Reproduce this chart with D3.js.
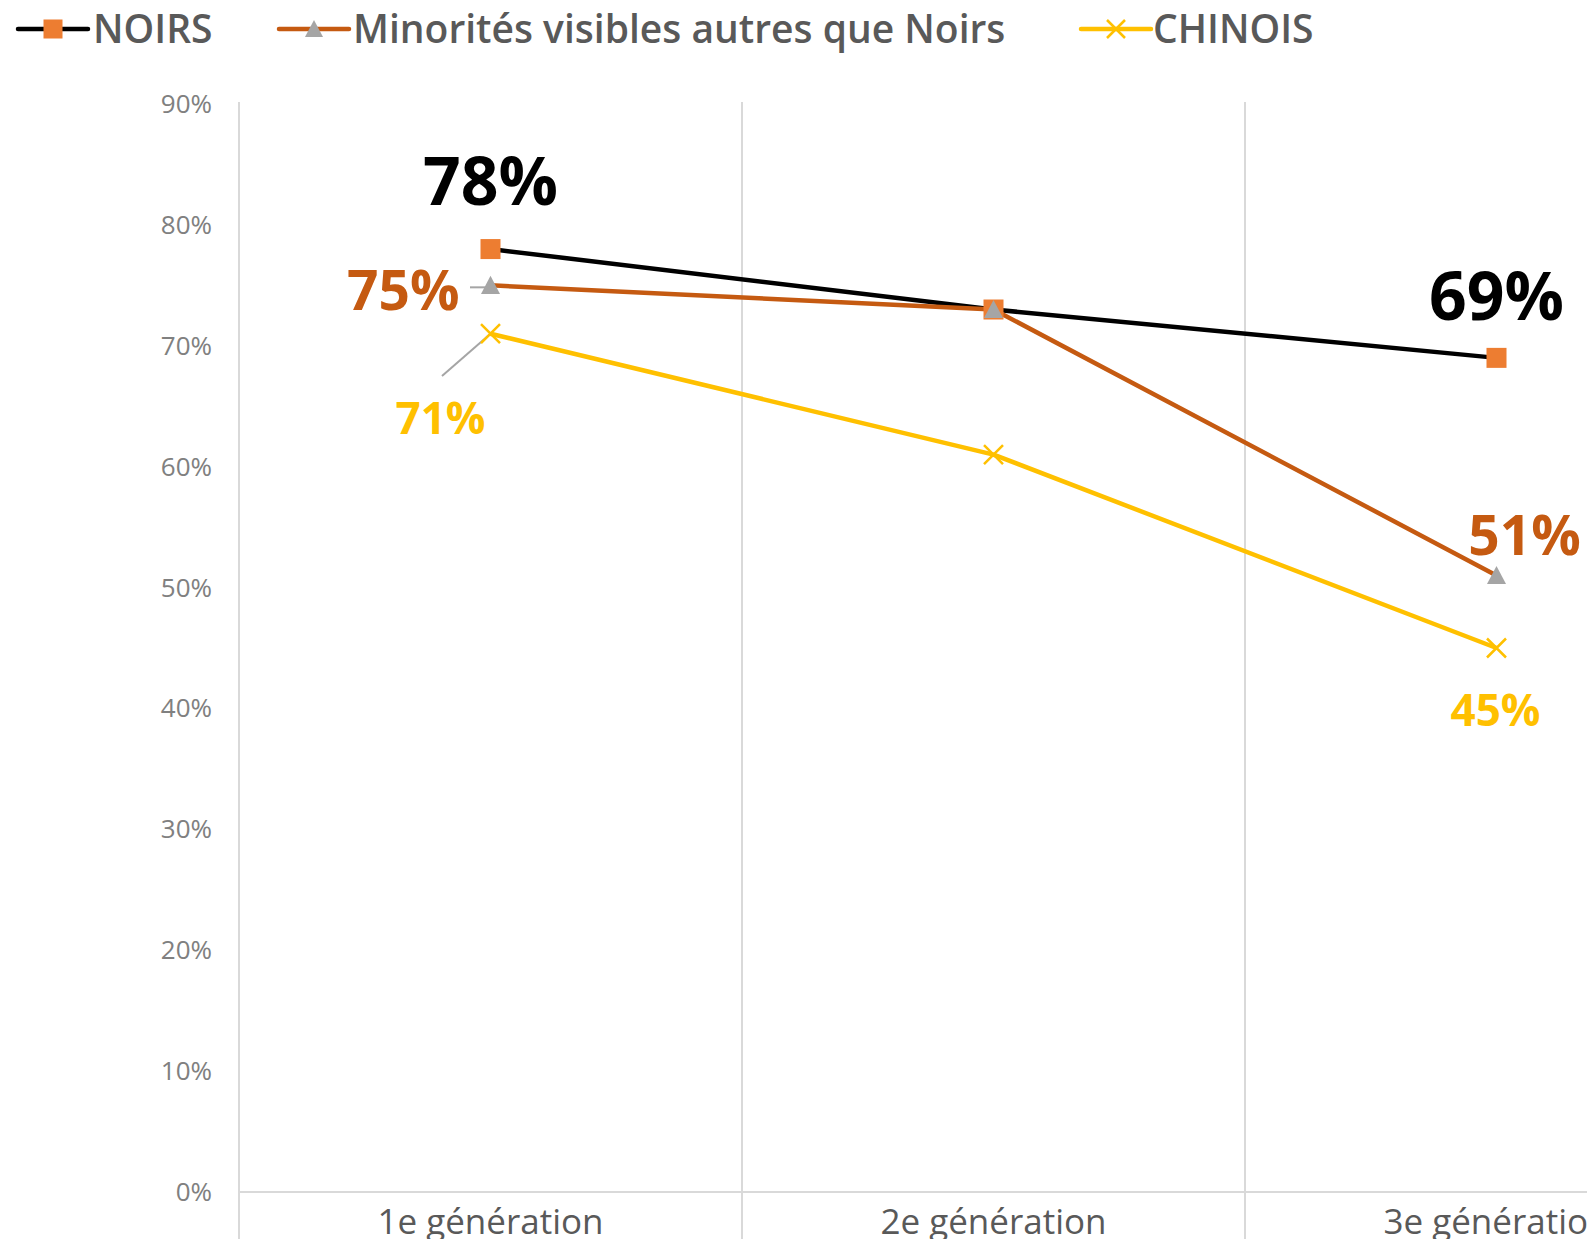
<!DOCTYPE html>
<html><head><meta charset="utf-8">
<script src="https://cdn.jsdelivr.net/npm/d3@7"></script>
<style>html,body{margin:0;padding:0;background:#fff;overflow:hidden}</style>
</head><body>
<svg id="c" width="1587" height="1239"></svg>
<script>
const categories = ["1e génération", "2e génération", "3e génération"];
const seriesNames = ["NOIRS", "Minorités visibles autres que Noirs", "CHINOIS"];
const noirs = [0.78, 0.73, 0.69];
const minorites = [0.75, 0.73, 0.51];
const chinois = [0.71, 0.61, 0.45];
const yTicks = [0, 0.1, 0.2, 0.3, 0.4, 0.5, 0.6, 0.7, 0.8, 0.9];

const svg = d3.select("#c");
const font = "'Open Sans', sans-serif";
const x = d3.scaleBand().domain(categories).range([239, 1748]).padding(0);
const y = d3.scaleLinear().domain([0, 0.9]).range([1192, 104]);
const cx = c => x(c) + x.bandwidth() / 2;

// vertical gridlines at category boundaries
const bounds = categories.map(c => x(c));
svg.selectAll(".vg").data(bounds).enter().append("line")
  .attr("x1", d => d).attr("x2", d => d).attr("y1", y(0.9) - 2).attr("y2", 1239)
  .attr("stroke", "#d9d9d9").attr("stroke-width", 2);
// bottom axis line
svg.append("line").attr("x1", 239).attr("x2", 1587).attr("y1", y(0)).attr("y2", y(0))
  .attr("stroke", "#d9d9d9").attr("stroke-width", 2);

// y tick labels
svg.selectAll(".yt").data(yTicks).enter().append("text")
  .attr("x", 212).attr("y", d => y(d) + 9)
  .attr("text-anchor", "end").attr("font-family", font).attr("font-size", 26)
  .attr("fill", "#808080").text(d => d3.format(".0%")(d));

// category labels
svg.selectAll(".xl").data(categories).enter().append("text")
  .attr("x", d => cx(d)).attr("y", 1234).attr("text-anchor", "middle")
  .attr("font-family", font).attr("font-size", 35).attr("fill", "#595959").text(d => d);

const series = [
  {name: seriesNames[0], vals: noirs, line: "#000000", marker: "square", mcol: "#ed7d31", w: 4.5},
  {name: seriesNames[1], vals: minorites, line: "#c55a11", marker: "triangle", mcol: "#a5a5a5", w: 4.5},
  {name: seriesNames[2], vals: chinois, line: "#ffc000", marker: "x", mcol: "#ffc000", w: 4.5}
];

// leader lines
svg.append("line").attr("x1", 442).attr("y1", 376).attr("x2", cx(categories[0])).attr("y2", y(chinois[0]))
  .attr("stroke", "#a5a5a5").attr("stroke-width", 2);
svg.append("line").attr("x1", 470).attr("y1", y(minorites[0]) + 2).attr("x2", cx(categories[0])).attr("y2", y(minorites[0]) + 2)
  .attr("stroke", "#a5a5a5").attr("stroke-width", 2);

const lineGen = d3.line().x((d, i) => cx(categories[i])).y(d => y(d));

function drawMarker(g, type, col, px, py, s) {
  if (type === "square") {
    g.append("rect").attr("x", px - s/2).attr("y", py - s/2).attr("width", s).attr("height", s).attr("fill", col);
  } else if (type === "triangle") {
    const h = s * 0.9;
    g.append("path").attr("d", `M${px},${py - h/2 - 1}L${px + s/2},${py + h/2}L${px - s/2},${py + h/2}Z`).attr("fill", col);
  } else {
    const r = s / 2;
    g.append("path").attr("d", `M${px - r},${py - r}L${px + r},${py + r}M${px - r},${py + r}L${px + r},${py - r}`)
      .attr("stroke", col).attr("stroke-width", 2.5);
  }
}

series.forEach(s => {
  svg.append("path").datum(s.vals).attr("d", lineGen).attr("fill", "none")
    .attr("stroke", s.line).attr("stroke-width", s.w).attr("stroke-linejoin", "round");
});
series.forEach(s => {
  const g = svg.append("g");
  s.vals.forEach((v, i) => drawMarker(g, s.marker, s.mcol, cx(categories[i]), y(v), s.marker === "square" ? 20 : 19));
});

// data labels
const fmt = d3.format(".0%");
const labels = [
  {v: noirs[0], i: 0, dx: 0, dy: -44, anchor: "middle", col: "#000000", size: 66},
  {v: noirs[2], i: 2, dx: 0, dy: -38, anchor: "middle", col: "#000000", size: 66},
  {v: minorites[0], i: 0, dx: -31, dy: 25, anchor: "end", col: "#c55a11", size: 55},
  {v: minorites[2], i: 2, dx: 28, dy: -20, anchor: "middle", col: "#c55a11", size: 55},
  {v: chinois[0], i: 0, dx: -50, dy: 100, anchor: "middle", col: "#ffc000", size: 44},
  {v: chinois[2], i: 2, dx: -1, dy: 78, anchor: "middle", col: "#ffc000", size: 44}
];
labels.forEach(l => {
  svg.append("text").attr("x", cx(categories[l.i]) + l.dx).attr("y", y(l.v) + l.dy)
    .attr("text-anchor", l.anchor).attr("font-family", font).attr("font-weight", 700)
    .attr("font-size", l.size).attr("fill", l.col).text(fmt(l.v));
});

// legend
const legend = [
  {s: series[0], lx: 18, tx: 93},
  {s: series[1], lx: 279, tx: 353},
  {s: series[2], lx: 1081, tx: 1153}
];
legend.forEach(L => {
  const g = svg.append("g");
  g.append("line").attr("x1", L.lx).attr("x2", L.lx + 70).attr("y1", 29).attr("y2", 29)
    .attr("stroke", L.s.line).attr("stroke-width", 4.5).attr("stroke-linecap", "round");
  drawMarker(g, L.s.marker, L.s.mcol, L.lx + 35, 29, L.s.marker === "square" ? 19 : 18);
  g.append("text").attr("x", L.tx).attr("y", 43).attr("font-family", font).attr("font-weight", 600)
    .attr("font-size", 39).attr("fill", "#595959").text(L.s.name);
});
</script>
</body></html>
